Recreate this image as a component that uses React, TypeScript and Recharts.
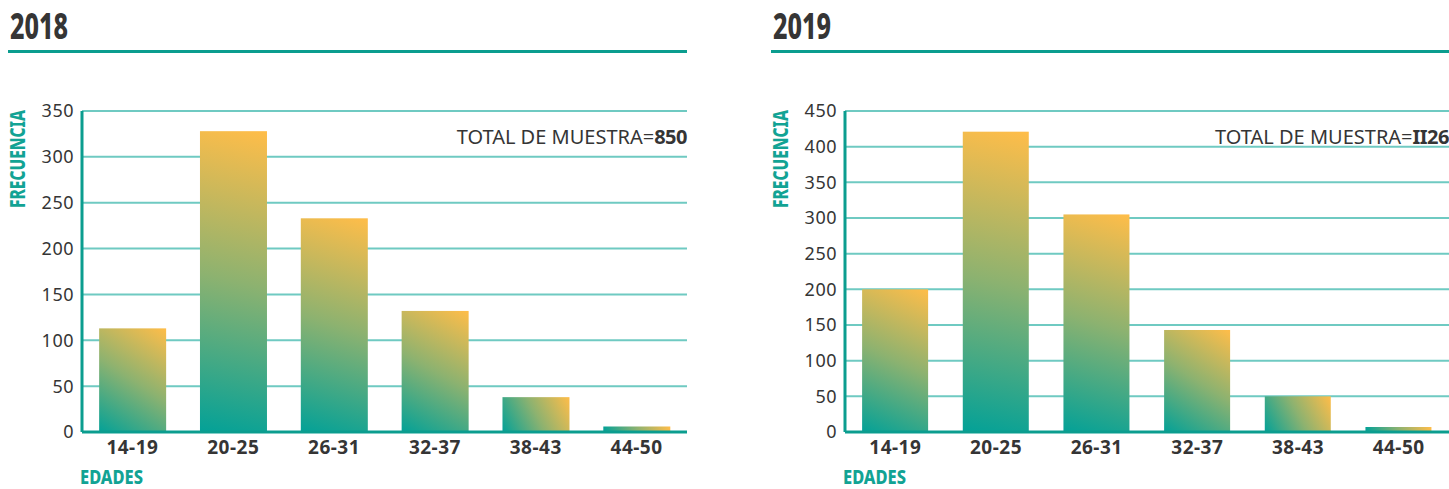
import React from 'react';
import { BarChart, Bar, XAxis, YAxis, CartesianGrid } from 'recharts';

const categories = ['14-19', '20-25', '26-31', '32-37', '38-43', '44-50'];
const values2018 = [113, 328, 233, 132, 38, 6];
const values2019 = [200, 421, 305, 143, 50, 7];
const ticks2018 = [0, 50, 100, 150, 200, 250, 300, 350];
const ticks2019 = [0, 50, 100, 150, 200, 250, 300, 350, 400, 450];
const total2018 = '850';
const total2019 = 'II26';

const TEAL = '#0b9d8f';
const GRID = '#6fcac2';
const DARK = '#353535';
const LABEL_TEAL = '#12a394';
const SANS = '"Noto Sans", "Open Sans", sans-serif';

function makeShape(prefix: string) {
  return (p: any) => {
    const { x, y, width, height, index } = p;
    if (!width || !height) return <g />;
    const gid = `${prefix}-${index}`;
    return (
      <g>
        <defs>
          <linearGradient
            id={gid}
            gradientUnits="userSpaceOnUse"
            x1={x}
            y1={y + height}
            x2={x + width}
            y2={y}
          >
            <stop offset="0%" stopColor="#03a197" />
            <stop offset="50%" stopColor="#8cb270" />
            <stop offset="100%" stopColor="#ffbd49" />
          </linearGradient>
        </defs>
        <rect x={x} y={y} width={width} height={height} fill={`url(#${gid})`} />
      </g>
    );
  };
}

function Panel(props: {
  id: string;
  left: number;
  width: number;
  title: string;
  values: number[];
  ticks: number[];
  total: string;
}) {
  const { id, left, width, title, values, ticks, total } = props;
  const data = categories.map((c, i) => ({ cat: c, v: values[i] }));
  const max = ticks[ticks.length - 1];
  return (
    <div style={{ position: 'absolute', left, top: 0, width, height: 489 }}>
      <div style={{ position: 'absolute', left: 0, top: 0 }}>
        <BarChart
          width={width}
          height={489}
          data={data}
          margin={{ top: 111, right: 0, left: 0, bottom: 27 }}
          barCategoryGap="17%"
        >
          <CartesianGrid vertical={false} stroke={GRID} strokeWidth={2} />
          <XAxis
            dataKey="cat"
            tickLine={false}
            axisLine={{ stroke: TEAL, strokeWidth: 3 }}
            tick={{ fill: DARK, fontSize: 19, fontWeight: 700, fontFamily: SANS, letterSpacing: 0.5 }}
            tickMargin={3}
            interval={0}
          />
          <YAxis
            width={82}
            domain={[0, max]}
            ticks={ticks}
            tickLine={false}
            axisLine={{ stroke: TEAL, strokeWidth: 3 }}
            tick={{ fill: DARK, fontSize: 18, fontFamily: SANS, letterSpacing: 0.5 }}
            interval={0}
          />
          <Bar dataKey="v" shape={makeShape(id)} isAnimationActive={false} />
        </BarChart>
      </div>
      <svg
        width={width}
        height={489}
        style={{ position: 'absolute', left: 0, top: 0, pointerEvents: 'none' }}
      >
        <text
          x={10}
          y={39}
          fontFamily={SANS}
          fontWeight={800}
          fontSize={36}
          fill={DARK}
          textLength={58}
          lengthAdjust="spacingAndGlyphs"
        >
          {title}
        </text>
        <rect x={8} y={50} width={width - 8} height={3} fill={TEAL} />
        <text
          x={0}
          y={0}
          transform="translate(25 159) rotate(-90)"
          textAnchor="middle"
          fontFamily={SANS}
          fontWeight={800}
          fontSize={21}
          fill={LABEL_TEAL}
          textLength={98}
          lengthAdjust="spacingAndGlyphs"
        >
          FRECUENCIA
        </text>
        <text
          x={80}
          y={484}
          fontFamily={SANS}
          fontWeight={800}
          fontSize={19}
          fill={LABEL_TEAL}
          textLength={63}
          lengthAdjust="spacingAndGlyphs"
        >
          EDADES
        </text>
      </svg>
      <div
        style={{
          position: 'absolute', right: 0, top: 125, fontFamily: SANS, fontSize: 20, color: DARK,
          whiteSpace: 'nowrap', lineHeight: '24px',
        }}
      >
        TOTAL DE MUESTRA=
        <span style={{ fontWeight: 700, letterSpacing: -0.5 }}>{total}</span>
      </div>
    </div>
  );
}

export default function App() {
  return (
    <div
      style={{
        position: 'absolute', left: 0, top: 0, width: 1449, height: 489, background: '#fff', overflow: 'hidden',
      }}
    >
      <Panel id="g2018" left={0} width={687} title="2018" values={values2018} ticks={ticks2018} total={total2018} />
      <Panel id="g2019" left={763} width={686} title="2019" values={values2019} ticks={ticks2019} total={total2019} />
    </div>
  );
}
